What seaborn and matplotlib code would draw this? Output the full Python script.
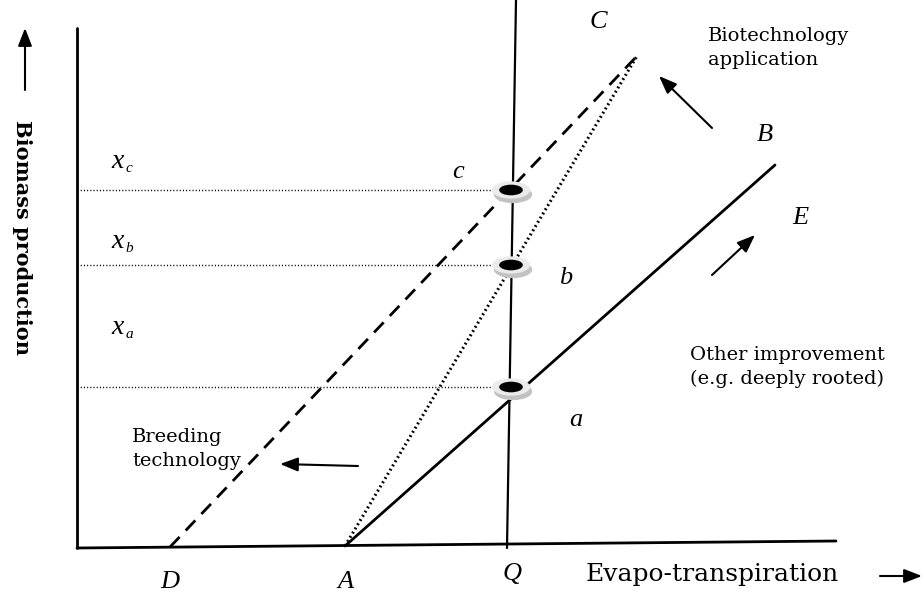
import matplotlib
matplotlib.use("Agg")
import matplotlib.pyplot as plt
import seaborn as sns
from matplotlib.path import Path
from matplotlib.transforms import offset_copy, Affine2D

sns.set_theme(style="white")
plt.rcParams['font.family'] = ['DejaVu Serif']
plt.rcParams['text.color'] = 'black'

# ---- conceptual diagram values (evapo-transpiration units, biomass units) ----
axis_x_et = [0, 759]
axis_x_bio = [0, 7]
axis_y_et = [0, 0]
axis_y_bio = [0, 520]
q_line_et = [430, 439]
q_line_bio = [0, 548]
line_a_et = [268, 698]          # A -> B (solid)
line_a_bio = [2, 383]
line_b_et = [268, 560]          # A -> C (dotted)
line_b_bio = [2, 492]
line_c_et = [93, 560]           # D -> C (dashed)
line_c_bio = [1, 492]
point_et = [434, 434, 434]      # a, b, c on Q
point_bio = [161, 283, 358]     # x_a, x_b, x_c
point_names = ["a", "b", "c"]
level_names = ["a", "b", "c"]

fig = plt.figure(figsize=(9.24, 5.95), dpi=100)
ax = fig.add_axes([0, 0, 1, 1])
ax.set_xlim(-77, 847)
ax.set_ylim(-47, 548)
ax.axis("off")


def P(px, py):
    return px - 77, 548 - py


kw = dict(ax=ax, color="black", sort=False, estimator=None, legend=False)
sns.lineplot(x=axis_x_et, y=axis_x_bio, lw=2.0, **kw)
sns.lineplot(x=axis_y_et, y=axis_y_bio, lw=2.0, **kw)
sns.lineplot(x=q_line_et, y=q_line_bio, lw=1.6, **kw)
sns.lineplot(x=line_a_et, y=line_a_bio, lw=2.0, **kw)
sns.lineplot(x=line_b_et, y=line_b_bio, lw=2.2, **kw)
ax.lines[-1].set_dashes([0.6, 1.0])
sns.lineplot(x=line_c_et, y=line_c_bio, lw=2.0, **kw)
ax.lines[-1].set_dashes([5, 3.2])

# horizontal dotted guides
for bio in point_bio:
    sns.lineplot(x=[0, point_et[0] - 10], y=[bio, bio], lw=1.0, **kw)
    ax.lines[-1].set_dashes([0.8, 1.5])

# coin-like markers
circ = Path.unit_circle()
ell = Path(Affine2D().scale(1.0, 0.45).transform(circ.vertices), circ.codes)
shadow_tr = offset_copy(ax.transData, fig=fig, x=2.0, y=-4.5, units="dots")
sns.scatterplot(x=point_et, y=point_bio, ax=ax, marker=ell, s=760,
                color="#c2c2c2", edgecolor="none", legend=False, zorder=4)
ax.collections[-1].set_offset_transform(shadow_tr)
sns.scatterplot(x=point_et, y=point_bio, ax=ax, marker=ell, s=760,
                color="#ebebeb", edgecolor="none", legend=False, zorder=5)
sns.scatterplot(x=point_et, y=point_bio, ax=ax, marker=ell, s=290,
                color="black", edgecolor="none", legend=False, zorder=6)

ital = dict(family="Liberation Serif", style="italic", fontsize=19,
            ha="center", va="center", color="black")
txt = dict(family="DejaVu Serif", fontsize=14, color="black", va="center")

# axis-point labels
ax.text(*P(170, 582), "D", **ital)
ax.text(*P(346, 582), "A", **ital)
ax.text(*P(512, 574), "Q", **ital)
ax.text(*P(598, 22), "C", **ital)
ax.text(*P(765, 135), "B", **ital)
ax.text(*P(800, 218), "E", **ital)

# point labels
ax.text(*P(458, 172), point_names[2], **ital)
ax.text(*P(566, 278), point_names[1], **ital)
ax.text(*P(576, 420), point_names[0], **ital)

# biomass level labels
for (py, nm) in zip([327, 242, 162], level_names):
    ax.text(*P(118, py), "x", **dict(ital, fontsize=20))
    ax.text(*P(129, py + 7), nm, family="Liberation Serif", style="italic",
            fontsize=11, ha="center", va="center", color="black")

ax.text(*P(708, 48), "Biotechnology\napplication", ha="left",
        linespacing=1.4, **txt)
ax.text(*P(690, 367), "Other improvement\n(e.g. deeply rooted)", ha="left",
        linespacing=1.45, **txt)
ax.text(*P(132, 449), "Breeding\ntechnology", ha="left",
        linespacing=1.45, **txt)
ax.text(*P(586, 574), "Evapo-transpiration", ha="left", color="black",
        family="DejaVu Serif", fontsize=18, va="center")
ax.text(*P(22, 237), "Biomass production", rotation=270, ha="center",
        va="center", family="DejaVu Serif", fontweight="bold", fontsize=15,
        color="black")

arrow = dict(arrowstyle="-|>,head_length=0.9,head_width=0.35", color="black",
             lw=1.5, shrinkA=0, shrinkB=0)
for tail, tip in [((712, 128), (659, 76)), ((712, 275), (755, 235)),
                  ((358, 466), (280, 464)), ((25, 90), (25, 28)),
                  ((880, 576), (922, 576))]:
    ax.annotate("", xy=P(*tip), xytext=P(*tail), arrowprops=arrow)

fig.savefig("out.png", dpi=100)
